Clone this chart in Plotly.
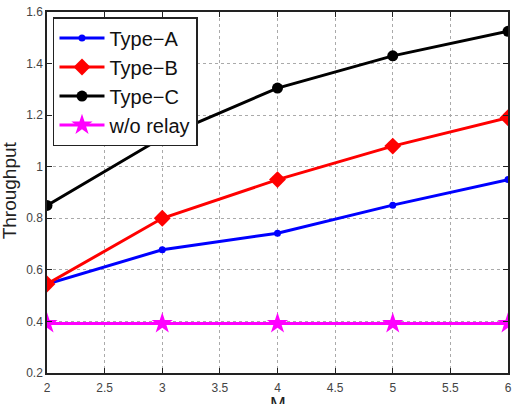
import plotly.graph_objects as go

M = [2, 3, 4, 5, 6]
type_a = [0.545, 0.678, 0.742, 0.851, 0.950]
type_b = [0.545, 0.800, 0.950, 1.080, 1.190]
type_c = [0.850, 1.113, 1.305, 1.430, 1.525]
wo_relay = [0.392, 0.392, 0.392, 0.392, 0.392]

x_ticks = [2, 2.5, 3, 3.5, 4, 4.5, 5, 5.5, 6]
x_labels = ["2", "2.5", "3", "3.5", "4", "4.5", "5", "5.5", "6"]
y_ticks = [0.2, 0.4, 0.6, 0.8, 1.0, 1.2, 1.4, 1.6]
y_labels = ["0.2", "0.4", "0.6", "0.8", "1", "1.2", "1.4", "1.6"]

fig = go.Figure()
fig.add_trace(go.Scatter(x=M, y=type_a, name="Type\u2212A", mode="lines+markers", legendgroup="a",
                         line=dict(color="#0000ff", width=3),
                         marker=dict(symbol="circle", size=7, color="#0000ff")))
fig.add_trace(go.Scatter(x=M, y=type_b, name="Type\u2212B", mode="lines+markers", legendgroup="b",
                         line=dict(color="#ff0000", width=3),
                         marker=dict(symbol="diamond", size=13, color="#ff0000")))
fig.add_trace(go.Scatter(x=M, y=type_c, name="Type\u2212C", mode="lines+markers", legendgroup="c",
                         line=dict(color="#000000", width=3),
                         marker=dict(symbol="circle", size=11, color="#000000")))
fig.add_trace(go.Scatter(x=M, y=wo_relay, name="w/o relay", mode="lines+markers", legendgroup="d",
                         line=dict(color="#ff00ff", width=3),
                         marker=dict(symbol="star", size=16, color="#ff00ff")))

axis_common = dict(
    showline=True, linecolor="#222", linewidth=1.5, mirror="ticks",
    ticks="inside", ticklen=5, tickcolor="#222",
    showgrid=True, gridcolor="#aaa", griddash="dot", gridwidth=1,
    zeroline=False, automargin=False,
    tickfont=dict(family="Liberation Sans, Arial, sans-serif", size=12, color="#444"),
)

fig.update_xaxes(range=[2, 6], tickvals=x_ticks, ticktext=x_labels, ticklabelstandoff=3,
                 **axis_common)
fig.update_yaxes(range=[0.2, 1.6], tickvals=y_ticks, ticktext=y_labels, ticklabelstandoff=0,
                 **axis_common)

title_font = dict(family="Liberation Sans, Arial", size=19, color="#222")
fig.add_annotation(text="M", xref="paper", yref="paper", x=0.5, y=-0.05,
                   xanchor="center", yanchor="top", showarrow=False, font=title_font)
fig.add_annotation(text="Throughput", xref="paper", yref="paper", x=-0.081, y=0.505,
                   xanchor="center", yanchor="middle", textangle=-90, showarrow=False, font=title_font)

fig.update_layout(
    width=517, height=404,
    margin=dict(l=47, r=9, t=12, b=31),
    plot_bgcolor="white", paper_bgcolor="white",
    font=dict(family="Liberation Sans, Arial, sans-serif"),
    legend=dict(x=0.013, y=0.986, xanchor="left", yanchor="top",
                bgcolor="white", bordercolor="#222", borderwidth=1.5,
                font=dict(size=20, color="#111"), tracegroupgap=0,
                itemwidth=45),
    showlegend=True,
)

fig.write_html("out.html")
